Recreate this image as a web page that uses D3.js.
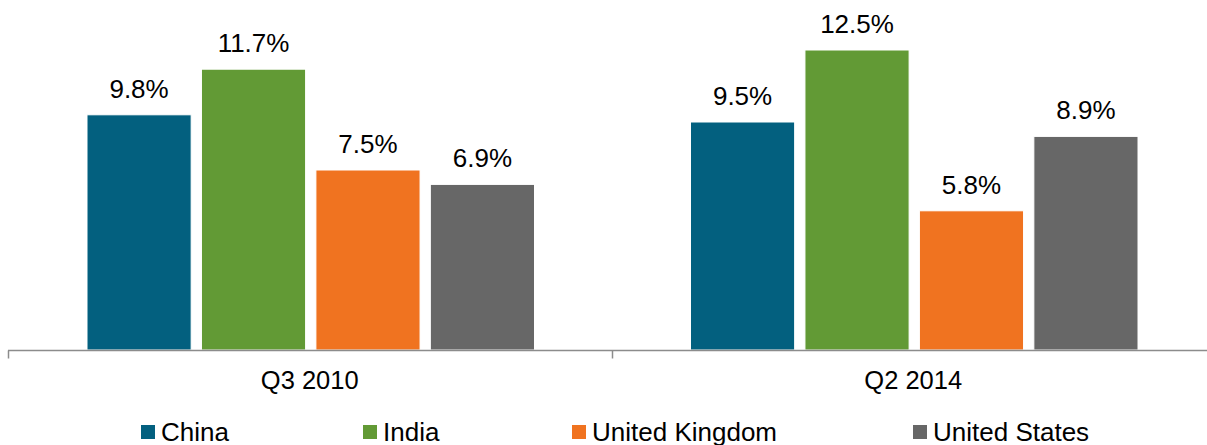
<!DOCTYPE html>
<html>
<head>
<meta charset="utf-8">
<script src="https://cdn.jsdelivr.net/npm/d3@7"></script>
<style>
  html, body { margin: 0; padding: 0; background: #fff; }
  svg { display: block; font-family: Arial, "Liberation Sans", sans-serif; }
</style>
</head>
<body>
<svg id="chart" width="1207" height="445"></svg>
<script>
// 데이터
const periods = ["Q3 2010", "Q2 2014"];
const countries = ["China", "India", "United Kingdom", "United States"];
const q3_2010 = [9.8, 11.7, 7.5, 6.9];
const q2_2014 = [9.5, 12.5, 5.8, 8.9];
const seriesByPeriod = [q3_2010, q2_2014];
const colors = ["#03607f", "#629a35", "#f07320", "#676767"];

const svg = d3.select("#chart");

// 스케일
const x = d3.scaleBand().domain(periods).range([8, 1215]).padding(0);
const xSub = d3.scaleBand().domain(countries).range([79, x.bandwidth() - 77]).paddingInner(0.09);
const y = d3.scaleLinear().domain([0, 14]).range([350, 14]);

const rows = periods.map((p, i) => countries.map((c, j) => ({ period: p, country: c, value: seriesByPeriod[i][j], color: colors[j] })));

// 막대
const group = svg.append("g")
  .selectAll("g")
  .data(rows)
  .join("g")
  .attr("transform", (d, i) => `translate(${x(periods[i])},0)`);

group.selectAll("rect")
  .data(d => d)
  .join("rect")
  .attr("x", d => xSub(d.country))
  .attr("y", d => y(d.value))
  .attr("width", xSub.bandwidth())
  .attr("height", d => y(0) - y(d.value))
  .attr("fill", d => d.color)
  .attr("stroke", "#ffffff")
  .attr("stroke-width", 1);

// 값 라벨
group.selectAll("text")
  .data(d => d)
  .join("text")
  .attr("x", d => xSub(d.country) + xSub.bandwidth() / 2)
  .attr("y", d => y(d.value) - 17)
  .attr("text-anchor", "middle")
  .attr("font-size", 26)
  .attr("fill", "#000")
  .text(d => d.value.toFixed(1) + "%");

// x축 (카테고리 경계에 눈금)
const axisY = 350.5;
const xr = x.range();
svg.append("line")
  .attr("x1", xr[0]).attr("x2", xr[1])
  .attr("y1", axisY).attr("y2", axisY)
  .attr("stroke", "#8c8c8c").attr("stroke-width", 1.5);

const edges = periods.map(p => x(p)).concat([xr[1]]);
svg.append("g").selectAll("line")
  .data(edges)
  .join("line")
  .attr("x1", d => Math.round(d) + 0.5).attr("x2", d => Math.round(d) + 0.5)
  .attr("y1", axisY).attr("y2", axisY + 8)
  .attr("stroke", "#8c8c8c").attr("stroke-width", 1.5);

svg.append("g").selectAll("text")
  .data(periods)
  .join("text")
  .attr("x", d => x(d) + x.bandwidth() / 2)
  .attr("y", 389)
  .attr("text-anchor", "middle")
  .attr("font-size", 25.5)
  .attr("fill", "#000")
  .text(d => d);

// 범례
const legendX = [141, 363, 572, 913];
const legend = svg.append("g").selectAll("g")
  .data(countries)
  .join("g")
  .attr("transform", (d, i) => `translate(${legendX[i]},425)`);

legend.append("rect")
  .attr("width", 14).attr("height", 14)
  .attr("fill", (d, i) => colors[i]);

legend.append("text")
  .attr("x", 20)
  .attr("y", 15.5)
  .attr("font-size", 26)
  .attr("fill", "#000")
  .text(d => d);
</script>
</body>
</html>
